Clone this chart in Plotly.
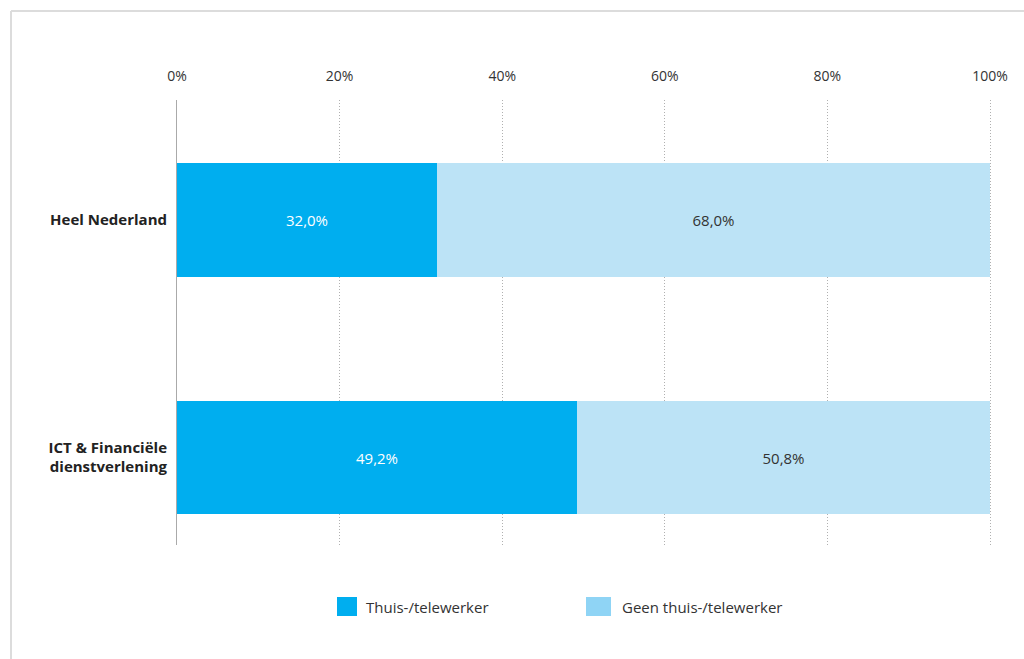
import plotly.graph_objects as go

# Share of workers who work from home / telework, per group
categories = ["Heel Nederland", "ICT & Financiële<br>dienstverlening"]
thuiswerker = [32.0, 49.2]
geen_thuiswerker = [68.0, 50.8]
series_names = ["Thuis-/telewerker", "Geen thuis-/telewerker"]
tick_values = [0, 20, 40, 60, 80, 100]
tick_labels = ["0%", "20%", "40%", "60%", "80%", "100%"]

DARK = "#00aeef"
LIGHT = "#bce3f6"
LIGHT_KEY = "#8fd4f5"
FONT = "Open Sans"


def pct(v):
    return f"{v:.1f}".replace(".", ",") + "%"


fig = go.Figure()
fig.add_trace(go.Bar(
    y=categories, x=thuiswerker, orientation="h", name=series_names[0],
    marker=dict(color=DARK, line=dict(width=0)), width=0.477,
    text=[pct(v) for v in thuiswerker], textposition="inside",
    insidetextanchor="middle",
    textfont=dict(family=FONT, size=15, color="white"),
    showlegend=False,
))
fig.add_trace(go.Bar(
    y=categories, x=geen_thuiswerker, orientation="h", name=series_names[1],
    marker=dict(color=LIGHT, line=dict(width=0)), width=0.477,
    text=[pct(v) for v in geen_thuiswerker], textposition="inside",
    insidetextanchor="middle",
    textfont=dict(family=FONT, size=15, color="#333333"),
    showlegend=False,
))

W, H = 1024, 659
L, R, T, B = 177, 32, 100, 114
pw, ph = W - L - R, H - T - B
X_MAX = 100 * pw / 813  # 100% sits at x = 990 px


def px(x):
    return (x - L) / pw


def py(y):
    return (H - B - y) / ph


shapes = [
    # outer frame (top and left edges)
    dict(type="line", xref="paper", yref="paper", x0=px(11), x1=px(1030),
         y0=py(11), y1=py(11), line=dict(color="#dcdcdc", width=2)),
    dict(type="line", xref="paper", yref="paper", x0=px(11), x1=px(11),
         y0=py(11), y1=py(670), line=dict(color="#dcdcdc", width=2)),
    # legend keys
    dict(type="rect", xref="paper", yref="paper", x0=px(337), x1=px(357),
         y0=py(616), y1=py(597), fillcolor=DARK, line=dict(width=0)),
    dict(type="rect", xref="paper", yref="paper", x0=px(586), x1=px(611),
         y0=py(616), y1=py(597), fillcolor=LIGHT_KEY, line=dict(width=0)),
]
annotations = [
    dict(xref="paper", yref="paper", x=px(364), y=py(607), text=series_names[0],
         showarrow=False, xanchor="left", yanchor="middle",
         font=dict(family=FONT, size=15, color="#333333")),
    dict(xref="paper", yref="paper", x=px(620), y=py(607), text=series_names[1],
         showarrow=False, xanchor="left", yanchor="middle",
         font=dict(family=FONT, size=15, color="#333333")),
]

fig.update_layout(
    width=W, height=H,
    margin=dict(l=L, r=R, t=T, b=B, pad=0),
    paper_bgcolor="white", plot_bgcolor="white",
    barmode="stack",
    bargap=0,
    showlegend=False,
    shapes=shapes,
    annotations=annotations,
)
fig.update_xaxes(
    side="top", range=[0, X_MAX], tickvals=tick_values, ticktext=tick_labels,
    showgrid=True, gridcolor="#b0b0b0", griddash="1px,2px", gridwidth=1,
    zeroline=False, showline=False,
    ticks="outside", ticklen=12, tickcolor="rgba(0,0,0,0)",
    tickfont=dict(family=FONT, size=14, color="#333333"),
    fixedrange=True,
)
fig.update_yaxes(
    range=[1.371, -0.506], showgrid=False, zeroline=False,
    showline=True, linecolor="#aaaaaa", linewidth=1,
    ticks="outside", ticklen=6, tickcolor="rgba(0,0,0,0)",
    tickfont=dict(family=FONT, size=15, color="#222222", weight="bold"),
    fixedrange=True,
)

fig.write_html("out.html")
